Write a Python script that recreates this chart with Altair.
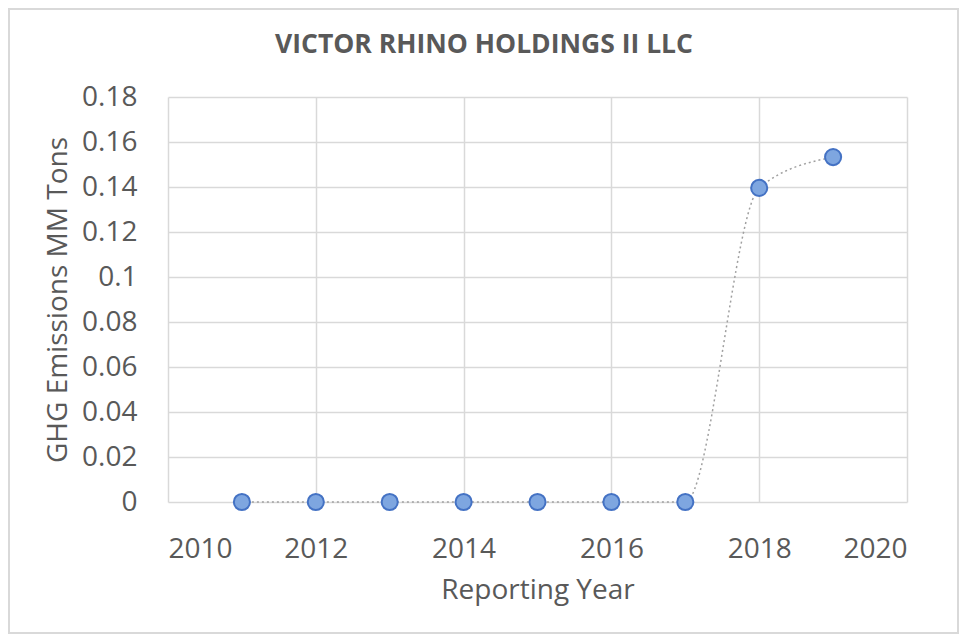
import altair as alt
import pandas as pd

years = [2011, 2012, 2013, 2014, 2015, 2016, 2017, 2018, 2019]
emissions = [0, 0, 0, 0, 0, 0, 0, 0.1396, 0.1533]
x_ticks = [2010, 2012, 2014, 2016, 2018, 2020]
y_ticks = [0, 0.02, 0.04, 0.06, 0.08, 0.1, 0.12, 0.14, 0.16, 0.18]
title_text = ["VICTOR RHINO HOLDINGS II LLC"]

df = pd.DataFrame({"year": years, "value": emissions})
tdf = pd.DataFrame({"t": title_text})

FONT = "Open Sans"
GRAY = "#595959"

x = alt.X("year:Q", scale=alt.Scale(domain=[2010, 2020], nice=False, zero=False),
          axis=alt.Axis(values=x_ticks, format="d", title="Reporting Year",
                        labelFontSize=28, titleFontSize=28, labelColor=GRAY, titleColor=GRAY,
                        labelFont=FONT, titleFont=FONT, titleFontWeight="normal",
                        domain=False, ticks=False, labelPadding=33, titlePadding=13,
                        gridColor="#d9d9d9", gridWidth=1.5))
y = alt.Y("value:Q", scale=alt.Scale(domain=[0, 0.18], nice=False),
          axis=alt.Axis(values=y_ticks, format=".2~f", title="GHG Emissions MM Tons",
                        labelFontSize=28, titleFontSize=28, labelColor=GRAY, titleColor=GRAY,
                        labelFont=FONT, titleFont=FONT, titleFontWeight="normal",
                        domain=False, ticks=False, labelPadding=31, titlePadding=9,
                        gridColor="#d9d9d9", gridWidth=1.5))

line = alt.Chart(df).mark_line(interpolate="monotone", color="#a0a0a0", strokeWidth=1.5,
                               strokeDash=[2, 3]).encode(x=x, y=y)
points = alt.Chart(df).mark_point(filled=True, size=260, fill="#7ea6e0", stroke="#4472c4",
                                  strokeWidth=2, opacity=1).encode(x=x, y=y)
border = alt.Chart(df).mark_rect(fill=None, stroke="#d9d9d9", strokeWidth=1.5).encode(
    x=alt.value(-159), x2=alt.value(790), y=alt.value(-88), y2=alt.value(536))
title = alt.Chart(tdf).mark_text(font=FONT, fontSize=26.5, fontWeight="bold", color=GRAY,
                                 align="center", baseline="middle").encode(
    text="t:N", x=alt.value(316), y=alt.value(-52))

chart = alt.layer(border, line, points, title).properties(
    width=739, height=405,
    autosize=alt.AutoSizeParams(type="none"),
    padding={"left": 160, "top": 89, "right": 52, "bottom": 132},
).configure_view(stroke=None)

chart.save("out.html", embed_options={"renderer": "svg", "actions": False})
